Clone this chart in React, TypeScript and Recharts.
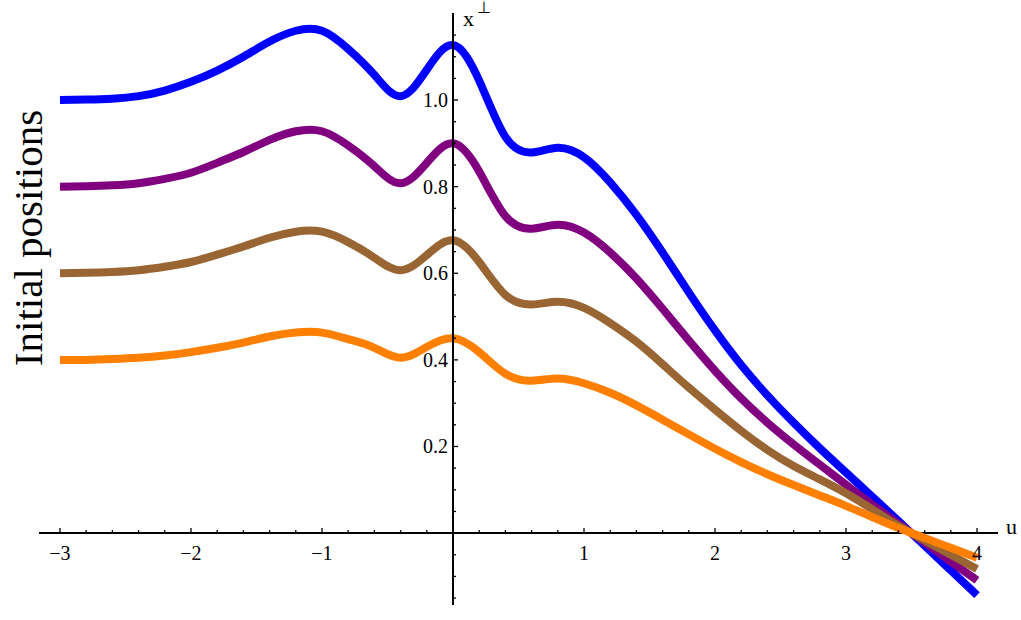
import { LineChart, Line, XAxis, YAxis, ReferenceLine } from "recharts";

const uVals = [
  -3, -2.8, -2.6, -2.4, -2.2, -2, -1.8, -1.6, -1.4, -1.2, -1, -0.8, -0.6, -0.4,
  -0.2, 0, 0.2, 0.4, 0.6, 0.8, 1, 1.2, 1.4, 1.6, 1.8, 2, 2.2, 2.4, 2.6, 2.8, 3,
  3.2, 3.4, 3.6, 3.8, 4,
];
const blueVals = [
  1.0, 1.001, 1.003, 1.009, 1.022, 1.042, 1.068, 1.1, 1.135, 1.16, 1.16, 1.118,
  1.058, 1.009, 1.07, 1.127, 1.045, 0.915, 0.879, 0.89, 0.868, 0.81, 0.735,
  0.648, 0.556, 0.468, 0.388, 0.318, 0.255, 0.196, 0.14, 0.084, 0.028, -0.029,
  -0.086, -0.143,
];
const purpleVals = [
  0.8, 0.801, 0.803, 0.808, 0.818, 0.832, 0.855, 0.88, 0.908, 0.928, 0.928,
  0.895, 0.847, 0.808, 0.855, 0.9, 0.835, 0.732, 0.703, 0.712, 0.694, 0.648,
  0.588, 0.518, 0.445, 0.375, 0.311, 0.255, 0.205, 0.158, 0.112, 0.066, 0.022,
  -0.022, -0.066, -0.109,
];
const brownVals = [
  0.6, 0.601, 0.603, 0.607, 0.615, 0.626, 0.643, 0.662, 0.682, 0.696, 0.696,
  0.672, 0.636, 0.607, 0.642, 0.676, 0.626, 0.55, 0.528, 0.534, 0.52, 0.485,
  0.442, 0.39, 0.336, 0.285, 0.236, 0.192, 0.155, 0.124, 0.092, 0.055, 0.017,
  -0.017, -0.05, -0.083,
];
const orangeVals = [
  0.4, 0.4, 0.402, 0.405, 0.41, 0.418, 0.428, 0.44, 0.454, 0.463, 0.463, 0.448,
  0.428, 0.405, 0.43, 0.45, 0.418, 0.368, 0.352, 0.357, 0.346, 0.324, 0.295,
  0.262, 0.228, 0.195, 0.164, 0.136, 0.111, 0.087, 0.063, 0.037, 0.012, -0.011,
  -0.034, -0.057,
];

const xTicks = [
  -3, -2.8, -2.6, -2.4, -2.2, -2, -1.8, -1.6, -1.4, -1.2, -1, -0.8, -0.6, -0.4,
  -0.2, 0.2, 0.4, 0.6, 0.8, 1, 1.2, 1.4, 1.6, 1.8, 2, 2.2, 2.4, 2.6, 2.8, 3, 3.2,
  3.4, 3.6, 3.8, 4,
];
const yTicks = [
  -0.15, -0.1, -0.05, 0.05, 0.1, 0.15, 0.2, 0.25, 0.3, 0.35, 0.4, 0.45, 0.5,
  0.55, 0.6, 0.65, 0.7, 0.75, 0.8, 0.85, 0.9, 0.95, 1.0, 1.05, 1.1, 1.15,
];

const series = [
  { key: "blue", color: "#0000ff", values: blueVals },
  { key: "purple", color: "#800080", values: purpleVals },
  { key: "brown", color: "#996633", values: brownVals },
  { key: "orange", color: "#ff8000", values: orangeVals },
];

const data = uVals.map((u, i) => {
  const row: Record<string, number> = { u };
  series.forEach((s) => (row[s.key] = s.values[i]));
  return row;
});

const W = 1021;
const H = 620;
const AX_H = 10; // x axis band (below plot)
const AX_W = 10; // y axis band (left of plot)
const M = { top: 13, right: 23, bottom: 15 - AX_H, left: 39 - AX_W };
const X_DOM: [number, number] = [-3.16, 4.16];
const Y_DOM: [number, number] = [-0.166, 1.201];
const PL = M.left + AX_W;
const PW = W - PL - M.right;
const PH = H - M.top - M.bottom - AX_H;
const X0 = PL + (PW * (0 - X_DOM[0])) / (X_DOM[1] - X_DOM[0]);
const Y0 = M.top + (PH * Y_DOM[1]) / (Y_DOM[1] - Y_DOM[0]);

const FONT = '"Liberation Serif", "Times New Roman", serif';

const isMajor = (v: number, step: number) =>
  Math.abs(v / step - Math.round(v / step)) < 1e-6;

function XTick(props: any) {
  const { x, payload } = props;
  const v = payload.value as number;
  const major = isMajor(v, 1);
  return (
    <g>
      <line x1={x} x2={x} y1={Y0} y2={Y0 - (major ? 5 : 3)} stroke="#000" strokeWidth={1.3} />
      {major && v !== 0 && (
        <text x={x} y={Y0 + 27} textAnchor="middle" style={{ fontFamily: FONT, fontSize: 20 }} fill="#000">
          {v < 0 ? `\u2212${-v}` : `${v}`}
        </text>
      )}
    </g>
  );
}

function YTick(props: any) {
  const { y, payload } = props;
  const v = payload.value as number;
  const major = isMajor(v, 0.2);
  return (
    <g>
      <line x1={X0} x2={X0 + (major ? 5 : 3)} y1={y} y2={y} stroke="#000" strokeWidth={1.3} />
      {major && v > 0 && (
        <text x={X0 - 5} y={y + 7} textAnchor="end" style={{ fontFamily: FONT, fontSize: 20 }} fill="#000">
          {v.toFixed(1)}
        </text>
      )}
    </g>
  );
}

export default function App() {
  return (
    <div style={{ position: "absolute", left: 0, top: 0, width: W, height: H, background: "#fff" }}>
      <LineChart width={W} height={H} data={data} margin={M}>
        <XAxis
          dataKey="u"
          type="number"
          domain={X_DOM}
          ticks={xTicks}
          interval={0}
          height={AX_H}
          axisLine={false}
          tickLine={false}
          tick={<XTick />}
        />
        <YAxis
          type="number"
          domain={Y_DOM}
          ticks={yTicks}
          interval={0}
          width={AX_W}
          axisLine={false}
          tickLine={false}
          tick={<YTick />}
        />
        <ReferenceLine y={0} stroke="#000" strokeWidth={2} />
        {series.map((s) => (
          <Line
            key={s.key}
            dataKey={s.key}
            type="natural"
            stroke={s.color}
            strokeWidth={8}
            dot={false}
            activeDot={false}
            isAnimationActive={false}
          />
        ))}
        <ReferenceLine x={0} stroke="#000" strokeWidth={2} />
      </LineChart>
      <svg
        width={W}
        height={H}
        style={{ position: "absolute", left: 0, top: 0, pointerEvents: "none", fontFamily: FONT }}
      >
        <text x={463} y={26} fontSize={22} fill="#000">
          x
        </text>
        <text x={477} y={13} fontSize={16} fill="#000">
          {"\u22A5"}
        </text>
        <text x={1006} y={534} fontSize={22} fill="#000">
          u
        </text>
        <text
          x={42}
          y={238}
          transform="rotate(-90 42 238)"
          textAnchor="middle"
          fontSize={41}
          fill="#000"
        >
          Initial positions
        </text>
      </svg>
    </div>
  );
}
